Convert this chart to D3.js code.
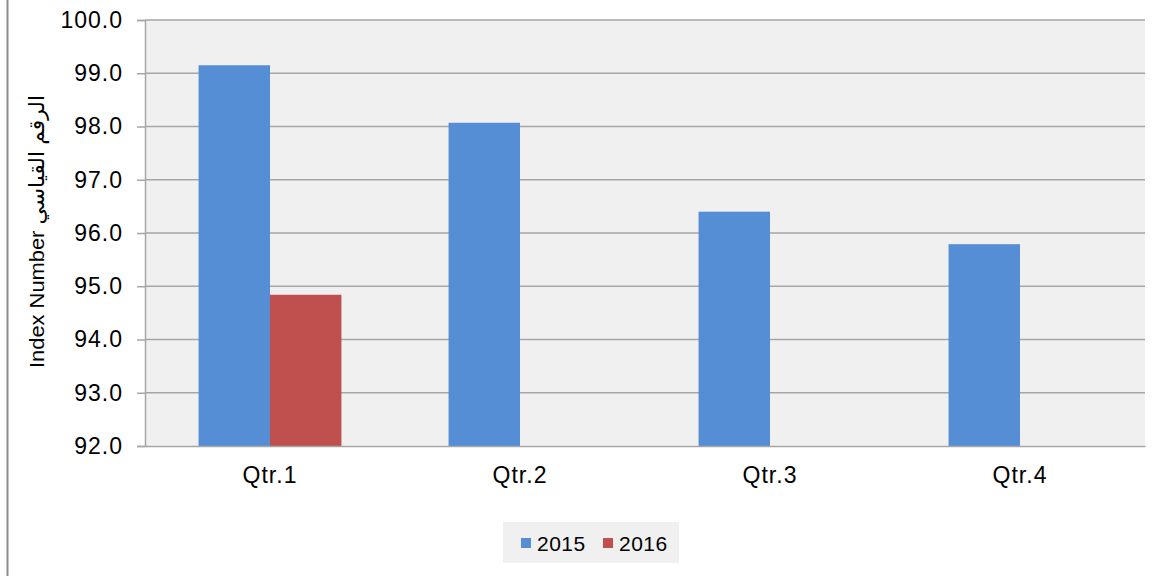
<!DOCTYPE html>
<html>
<head>
<meta charset="utf-8">
<script src="https://cdn.jsdelivr.net/npm/d3@7"></script>
<style>
  body { margin: 0; background: #fff; }
  text { font-family: Arial, "Liberation Sans", "DejaVu Sans", sans-serif; fill: #000; }
</style>
</head>
<body>
<div id="chart"></div>
<script>
var quarters = ['Qtr.1', 'Qtr.2', 'Qtr.3', 'Qtr.4'];
var seriesNames = ['2015', '2016'];
var values2015 = [99.15, 98.07, 96.40, 95.79];
var values2016 = [94.84, null, null, null];
var yTicks = [92, 93, 94, 95, 96, 97, 98, 99, 100];
var colors = ['#558ed5', '#c0504d'];

var width = 1168, height = 576;
var margin = { top: 20, right: 23, bottom: 130, left: 145 };

var svg = d3.select('#chart').append('svg')
    .attr('width', width)
    .attr('height', height);

// left frame line of the chart object
svg.append('line')
    .attr('x1', 7.5).attr('x2', 7.5)
    .attr('y1', 0).attr('y2', height)
    .attr('stroke', '#8c8c8c')
    .attr('stroke-width', 2);

var x = d3.scaleBand()
    .domain(quarters)
    .range([margin.left, width - margin.right]);

var xs = d3.scaleBand()
    .domain(seriesNames)
    .range([0, x.bandwidth()])
    .paddingInner(0)
    .paddingOuter(0.75);

var y = d3.scaleLinear()
    .domain([92, 100])
    .range([height - margin.bottom, margin.top]);

// plot area
svg.append('rect')
    .attr('x', margin.left)
    .attr('y', margin.top)
    .attr('width', width - margin.left - margin.right)
    .attr('height', height - margin.top - margin.bottom)
    .attr('fill', '#f0f0f0');

// gridlines + y axis
var yAxis = svg.append('g')
    .attr('transform', 'translate(' + margin.left + ',0)')
    .call(d3.axisLeft(y)
      .tickValues(yTicks)
      .tickFormat(d3.format('.1f'))
      .tickSize(8)
      .tickPadding(14));
yAxis.select('.domain').attr('stroke', '#a6a6a6').attr('stroke-width', 1.5);
yAxis.selectAll('.tick line').attr('stroke', '#a6a6a6').attr('stroke-width', 1.5);
yAxis.selectAll('.tick text')
    .style('font-size', '23px')
    .style('letter-spacing', '1px');

svg.append('g')
  .selectAll('line')
  .data(yTicks.slice(1))
  .enter().append('line')
    .attr('x1', margin.left)
    .attr('x2', width - margin.right)
    .attr('y1', function(d) { return y(d); })
    .attr('y2', function(d) { return y(d); })
    .attr('stroke', '#a6a6a6')
    .attr('stroke-width', 1.5);

// bars
var rows = [];
quarters.forEach(function(q, i) {
  rows.push({ q: q, s: '2015', v: values2015[i], c: colors[0] });
  if (values2016[i] != null) rows.push({ q: q, s: '2016', v: values2016[i], c: colors[1] });
});

svg.selectAll('.bar')
    .data(rows)
  .enter().append('rect')
    .attr('class', 'bar')
    .attr('x', function(d) { return x(d.q) + xs(d.s); })
    .attr('width', xs.bandwidth())
    .attr('y', function(d) { return y(d.v); })
    .attr('height', function(d) { return y(92) - y(d.v); })
    .attr('fill', function(d) { return d.c; });

// x axis
var xAxis = svg.append('g')
    .attr('transform', 'translate(0,' + (height - margin.bottom) + ')')
    .call(d3.axisBottom(x).tickSize(0).tickPadding(21));
xAxis.select('.domain').attr('stroke', '#a6a6a6').attr('stroke-width', 1.5);
xAxis.selectAll('.tick text')
    .style('font-size', '23px')
    .style('letter-spacing', '1px');

// y label
svg.append('text')
    .attr('transform', 'translate(44,' + 231.5 + ') rotate(-90)')
    .style('text-anchor', 'middle')
    .style('font-size', '21px')
    .attr('textLength', 273)
    .attr('lengthAdjust', 'spacingAndGlyphs')
    .text('Index Number الرقم القياسي');

// legend
var legend = svg.append('g').attr('transform', 'translate(503,522)');
legend.append('rect')
    .attr('width', 176).attr('height', 41)
    .attr('fill', '#f0f0f0');
var lx = [18, 100];
seriesNames.forEach(function(s, i) {
  legend.append('rect')
      .attr('x', lx[i]).attr('y', 16)
      .attr('width', 10).attr('height', 10)
      .attr('fill', colors[i]);
  legend.append('text')
      .attr('x', lx[i] + 16).attr('y', 29)
      .style('font-size', '21px')
      .style('letter-spacing', '0.5px')
      .text(s);
});
</script>
</body>
</html>
